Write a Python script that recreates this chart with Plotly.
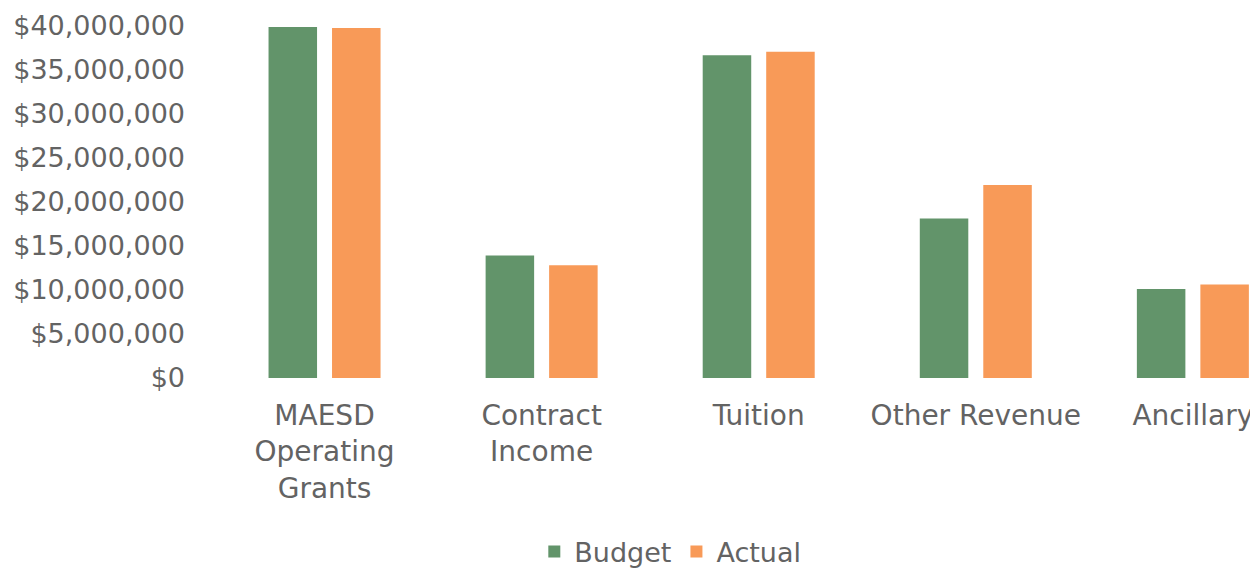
import plotly.graph_objects as go

categories = ["MAESD<br>Operating<br>Grants", "Contract<br>Income", "Tuition", "Other Revenue", "Ancillary"]
budget = [39_800_000, 13_900_000, 36_600_000, 18_100_000, 10_100_000]
actual = [39_700_000, 12_800_000, 37_000_000, 21_900_000, 10_600_000]
y_ticks = [0, 5_000_000, 10_000_000, 15_000_000, 20_000_000, 25_000_000, 30_000_000, 35_000_000, 40_000_000]

GREEN = "#62946a"
ORANGE = "#f89a58"
TEXT = "#636363"
FONT = "DejaVu Sans"

fig = go.Figure()
fig.add_trace(go.Bar(name="Budget", x=categories, y=budget, marker=dict(color=GREEN, line=dict(width=0))))
fig.add_trace(go.Bar(name="Actual", x=categories, y=actual, marker=dict(color=ORANGE, line=dict(width=0))))

# page body adds an 8px offset, so the figure is 8px smaller on each axis
fig.update_layout(
    width=1250, height=563,
    margin=dict(l=208, r=0, t=12, b=193, autoexpand=False),
    paper_bgcolor="white", plot_bgcolor="white",
    barmode="group", bargap=0.415, bargroupgap=0.236,
    font=dict(family=FONT, color=TEXT),
    showlegend=True,
    legend=dict(orientation="h", x=0.436, xanchor="center", y=-0.486, yanchor="middle",
                font=dict(size=27, color=TEXT, family=FONT), itemsizing="constant",
                traceorder="normal"),
    xaxis=dict(range=[-0.5, 4.3], showgrid=False, showline=False, zeroline=False, ticks="",
               tickfont=dict(size=28, color=TEXT, family=FONT), ticklabelstandoff=18),
    yaxis=dict(range=[0, 40_600_000], tickvals=y_ticks, tickformat="$,.0f",
               showgrid=False, zeroline=False, showline=False, ticks="",
               tickfont=dict(size=27, color=TEXT, family=FONT), ticklabelstandoff=30),
)

fig.write_html("out.html")
